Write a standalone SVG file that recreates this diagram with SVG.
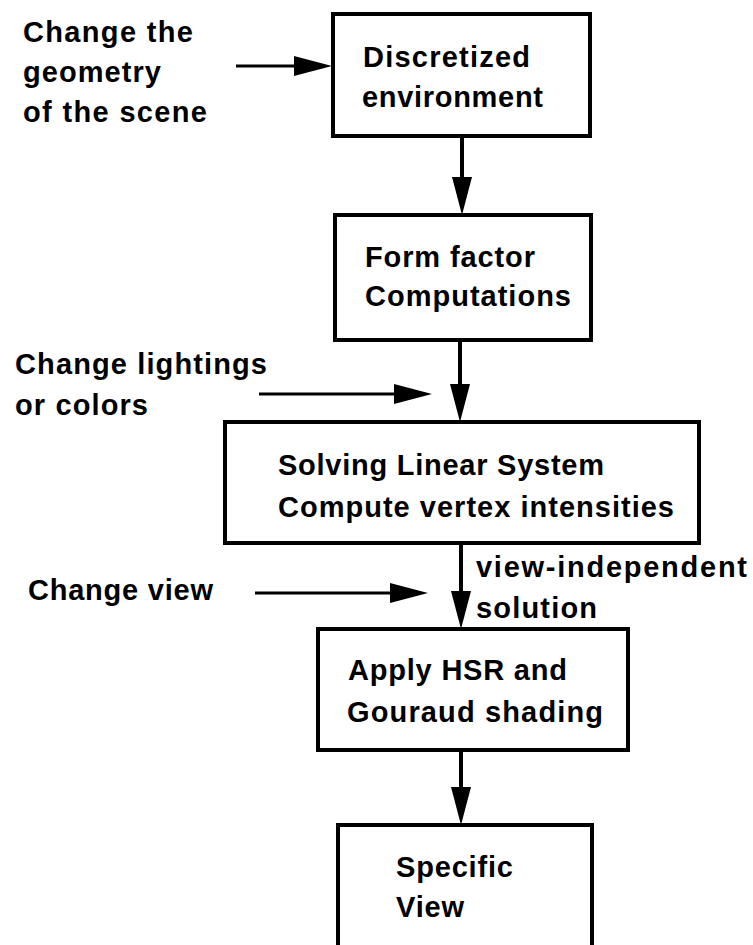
<svg xmlns="http://www.w3.org/2000/svg" width="753" height="945" viewBox="0 0 753 945">
<style>
  .box { fill: #fff; stroke: #000; stroke-width: 4; }
  .t { font-family: "Liberation Sans", Arial, sans-serif; font-weight: bold; font-size: 29px; fill: #000; }
  .v { stroke: #000; stroke-width: 4; fill: none; }
  .h { stroke: #000; stroke-width: 3; fill: none; }
</style>
<defs>
  <marker id="ah" markerUnits="userSpaceOnUse" markerWidth="38" markerHeight="20" refX="8" refY="10" orient="auto" overflow="visible">
    <path d="M0,0 L38,10 L0,20 Z" fill="#000"/>
  </marker>
</defs>
<rect width="753" height="945" fill="#fff"/>

<g id="connectors">
  <line class="h" x1="236" y1="66" x2="302" y2="66" marker-end="url(#ah)"/>
  <line class="v" x1="462" y1="136" x2="462" y2="185" marker-end="url(#ah)"/>
  <line class="h" x1="259" y1="394" x2="402" y2="394" marker-end="url(#ah)"/>
  <line class="v" x1="460" y1="340" x2="460" y2="392" marker-end="url(#ah)"/>
  <line class="h" x1="255" y1="593" x2="398" y2="593" marker-end="url(#ah)"/>
  <line class="v" x1="461" y1="543" x2="461" y2="599" marker-end="url(#ah)"/>
  <line class="v" x1="461" y1="750" x2="461" y2="795" marker-end="url(#ah)"/>
</g>

<g id="label-geometry">
  <text class="t" x="23" y="42" textLength="170">Change the</text>
  <text class="t" x="23" y="82" textLength="138">geometry</text>
  <text class="t" x="23" y="122" textLength="184">of the scene</text>
</g>
<g id="label-lightings">
  <text class="t" x="15" y="374" textLength="252">Change lightings</text>
  <text class="t" x="15" y="415" textLength="133">or colors</text>
</g>
<g id="label-view">
  <text class="t" x="28" y="600" textLength="185">Change view</text>
</g>
<g id="label-solution">
  <text class="t" x="476" y="577" textLength="271">view-independent</text>
  <text class="t" x="476" y="618" textLength="121">solution</text>
</g>

<g id="node-discretized">
  <rect class="box" x="333" y="14" width="257" height="122"/>
  <text class="t" x="363" y="67" textLength="167">Discretized</text>
  <text class="t" x="362" y="107" textLength="181">environment</text>
</g>
<g id="node-formfactor">
  <rect class="box" x="335" y="215" width="256" height="125"/>
  <text class="t" x="365" y="267" textLength="170">Form factor</text>
  <text class="t" x="365" y="306" textLength="206">Computations</text>
</g>
<g id="node-solving">
  <rect class="box" x="225" y="422" width="474" height="121"/>
  <text class="t" x="278" y="475" textLength="326">Solving Linear System</text>
  <text class="t" x="278" y="517" textLength="396">Compute vertex intensities</text>
</g>
<g id="node-hsr">
  <rect class="box" x="318" y="629" width="310" height="121"/>
  <text class="t" x="348" y="680" textLength="219">Apply HSR and</text>
  <text class="t" x="347" y="722" textLength="256">Gouraud shading</text>
</g>
<g id="node-specific">
  <rect class="box" x="338" y="825" width="254" height="140"/>
  <text class="t" x="396" y="877" textLength="117">Specific</text>
  <text class="t" x="396" y="917" textLength="68">View</text>
</g>
</svg>
